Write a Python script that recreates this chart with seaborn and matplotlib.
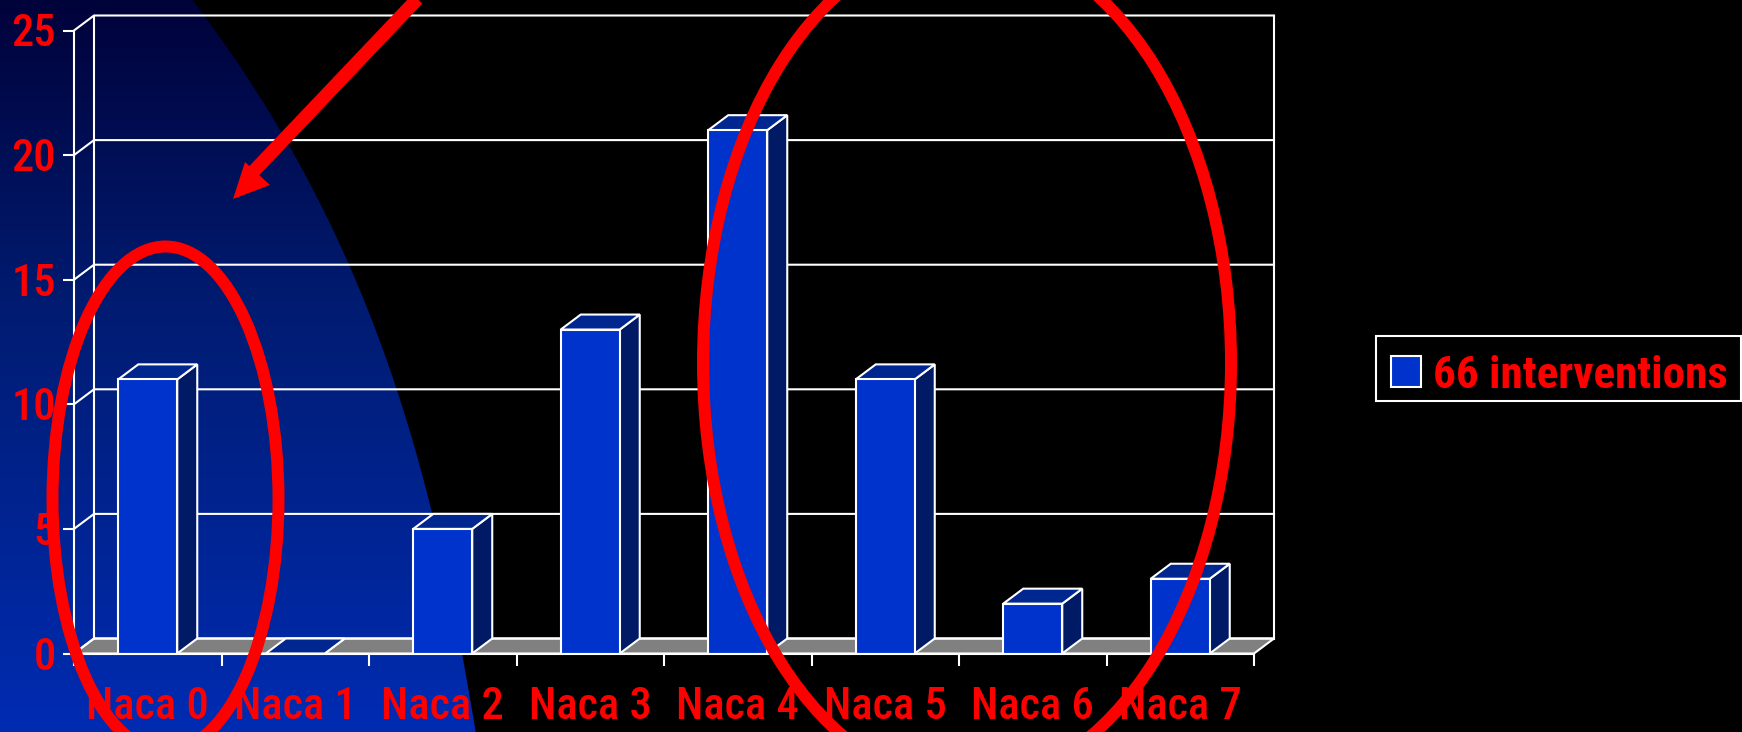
import numpy as np
import pandas as pd
import matplotlib
matplotlib.use("Agg")
import matplotlib.pyplot as plt
import seaborn as sns
from matplotlib.patches import Polygon, Ellipse, Patch, Rectangle
from matplotlib.transforms import ScaledTranslation
from matplotlib import font_manager as fm

categories = ["Naca 0", "Naca 1", "Naca 2", "Naca 3", "Naca 4", "Naca 5", "Naca 6", "Naca 7"]
interventions = [11, 0, 5, 13, 21, 11, 2, 3]
y_ticks = [0, 5, 10, 15, 20, 25]
series_name = "66 interventions"

W, H = 1742, 732
FRONT = "#0033CC"
SIDE = "#001A66"
TOP = "#00268F"
WHITE = "white"
RED = "#FF0000"
BAR_W = 0.4
LW = 1.5

names = {f.name for f in fm.fontManager.ttflist}
narrow = next((n for n in ["Liberation Sans Narrow", "Roboto Condensed", "Liberation Sans"] if n in names), "DejaVu Sans")

sns.set_theme(style="dark")
plt.rcParams["font.family"] = [narrow, "DejaVu Sans"]
plt.rcParams["figure.facecolor"] = "black"

fig = plt.figure(figsize=(W / 100, H / 100), dpi=100, facecolor="black")

# backdrop: blue gradient sweeping down the left side
bg = fig.add_axes([0, 0, 1, 1], zorder=0)
bg.axis("off")
rows = np.linspace(0, 1, 256)
grad = np.zeros((256, 1, 3))
grad[:, 0, 1] = np.interp(rows, [0, 0.41, 1], [2, 27, 44]) / 255
grad[:, 0, 2] = np.interp(rows, [0, 0.41, 1], [58, 112, 178]) / 255
img = bg.imshow(grad, extent=[0, 520, H, 0], aspect="auto", zorder=0)
bg.set_xlim(0, W)
bg.set_ylim(H, 0)
edge_y = np.array([0, 133, 300, 400, 513, 653, 732])
edge_x = np.array([192, 283, 363, 400, 432, 463, 475])
yy = np.linspace(0, H, 80)
xx = np.polyval(np.polyfit(edge_y, edge_x, 3), yy)
outline = np.column_stack([np.r_[0, xx, 0], np.r_[0, yy, H]])
img.set_clip_path(Polygon(outline, closed=True, transform=bg.transData))

# chart axes sit on the front plane of the box
ax = fig.add_axes([74 / W, (H - 653.5) / H, 1180 / W, 623 / H], zorder=1)
ax.patch.set_alpha(0)
data = pd.DataFrame({"stage": categories, "count": interventions})
sns.barplot(data=data, x="stage", y="count", color=FRONT, saturation=1, width=BAR_W,
            edgecolor=WHITE, linewidth=LW, ax=ax, zorder=4, label=series_name, legend=False)
ax.set_xlim(-0.5, len(categories) - 0.5)
ax.set_ylim(0, 25)
ax.set_xlabel("")
ax.set_ylabel("")
ax.grid(False)
for s in ax.spines.values():
    s.set_visible(False)

# depth of the box in data units
dx = 20 / 147.5
dy = 15 / (623 / 25)
x0, x1 = ax.get_xlim()
line = dict(color=WHITE, lw=LW, clip_on=False, solid_capstyle="projecting")

ax.add_patch(Polygon([(x0, 0), (x0 + dx, dy), (x1 + dx, dy), (x1, 0)], closed=True,
                     fc="#808080", ec=WHITE, lw=LW, clip_on=False, zorder=1))
for v in y_ticks:
    ax.plot([x0, x0 + dx, x1 + dx], [v, v + dy, v + dy], zorder=1.5, **line)
ax.plot([x0, x0], [0, 25], zorder=1.5, **line)
ax.plot([x0 + dx, x0 + dx], [dy, 25 + dy], zorder=1.5, **line)
ax.plot([x1 + dx, x1 + dx], [dy, 25 + dy], zorder=1.5, **line)

# side and top faces of each bar
for i, v in enumerate(interventions):
    l, r = i - BAR_W / 2, i + BAR_W / 2
    ax.add_patch(Polygon([(r, 0), (r + dx, dy), (r + dx, v + dy), (r, v)], closed=True,
                         fc=SIDE, ec=WHITE, lw=LW, clip_on=False, zorder=3))
    ax.add_patch(Polygon([(l, v), (l + dx, v + dy), (r + dx, v + dy), (r, v)], closed=True,
                         fc=TOP, ec=WHITE, lw=LW, clip_on=False, zorder=3))
ax.plot([x0, x1], [0, 0], zorder=5, **line)

ax.set_yticks(y_ticks)
ax.set_yticklabels([str(v) for v in y_ticks])
ax.set_xticks(np.arange(len(categories) + 1) - 0.5, minor=True)
ax.set_xticks(range(len(categories)))
ax.set_xticklabels(categories)
ax.tick_params(axis="x", which="major", length=0, pad=23.5, labelsize=32, labelcolor=RED)
ax.tick_params(axis="x", which="minor", length=8.5, width=LW, color=WHITE, bottom=True)
ax.tick_params(axis="y", length=8, width=LW, color=WHITE, pad=5, labelsize=32, labelcolor=RED, left=True)
for t in ax.get_xticklabels():
    t.set_fontweight(500)
nudge = ScaledTranslation(0, -4 / 100, fig.dpi_scale_trans)
for t in ax.get_yticklabels():
    t.set_fontweight(500)
    t.set_verticalalignment("center")
    t.set_transform(t.get_transform() + nudge)

handle = Patch(fc=FRONT, ec=WHITE, lw=LW)
leg = ax.legend([handle], [series_name], loc="center left",
                bbox_to_anchor=(1391 / W, (H - 375.5) / H), bbox_transform=fig.transFigure,
                frameon=False, prop={"size": 32.5, "weight": "bold"}, labelcolor=RED,
                handlelength=0.66, handleheight=0.66, handletextpad=0.26,
                borderpad=0, borderaxespad=0)

# callouts and legend box in pixel space on top of the chart
ov = fig.add_axes([0, 0, 1, 1], zorder=3)
ov.set_xlim(0, W)
ov.set_ylim(H, 0)
ov.axis("off")
ov.patch.set_alpha(0)
ov.add_patch(Rectangle((1376, 336), 365, 65, fc="none", ec=WHITE, lw=LW))
ring = 12 * 0.72
ov.add_patch(Ellipse((165.5, 499), 226, 505, fc="none", ec=RED, lw=ring))
ov.add_patch(Ellipse((967, 363), 528, 845, fc="none", ec=RED, lw=ring))
ov.plot([424, 253], [-8, 172], color=RED, lw=13.5 * 0.72, solid_capstyle="butt")
ov.add_patch(Polygon([(233, 199), (245, 162), (270, 185)], closed=True, fc=RED, ec="none"))

fig.savefig("out.png", dpi=100, facecolor="black")
